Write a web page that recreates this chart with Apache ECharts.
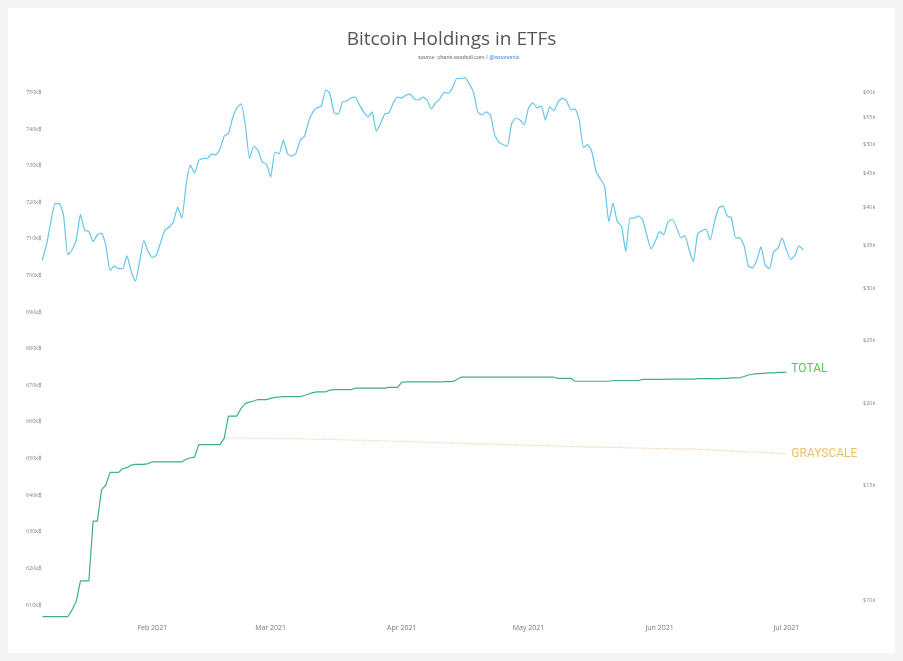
<!DOCTYPE html>
<html><head><meta charset="utf-8">
<script src="https://cdn.jsdelivr.net/npm/echarts@6/dist/echarts.min.js"></script>
<style>
html,body{margin:0;padding:0;background:#f4f4f4;width:903px;height:661px;overflow:hidden}
#c{position:absolute;left:8px;top:8px;width:887px;height:645px;background:#fff}
</style></head><body><div id="c"></div>
<script>
// ---- data ----
const startDate = [2021, 0, 6]; // daily series start: 6 Jan 2021
const leftTicksK = [610,620,630,640,650,660,670,680,690,700,710,720,730,740,750];
const rightTicksK = [10,15,20,25,30,35,40,45,50,55,60];

// BTC price, $k, daily from 6 Jan
const priceK = [33.2,35.1,38.0,40.5,40.5,38.9,33.8,34.4,35.6,39.0,36.9,36.7,35.4,36.3,36.5,35.0,32.0,32.5,32.2,32.2,
33.7,31.9,30.8,33.0,35.6,34.2,33.5,33.8,35.4,36.9,37.3,38.0,40.0,38.5,43.3,46.4,45.1,47.2,47.5,47.5,
48.3,48.1,49.1,51.4,51.9,54.8,56.8,57.6,53.5,47.5,49.6,48.9,46.9,46.6,44.5,48.6,48.3,50.7,48.3,47.9,
48.4,50.7,51.4,54.2,56.0,56.8,57.1,60.5,59.8,55.8,55.6,58.0,58.2,58.8,59.0,57.4,56.0,55.0,56.0,52.3,
53.7,55.6,55.8,57.8,59.0,58.8,59.4,59.6,58.6,58.4,59.0,58.4,56.6,57.8,58.6,60.0,59.8,60.9,63.0,63.0,
63.2,61.8,60.0,56.0,55.4,56.0,55.4,51.6,50.3,49.9,49.6,53.7,54.8,54.4,53.5,56.8,57.8,56.8,57.2,54.4,
57.0,56.2,58.0,58.8,58.2,56.4,56.6,54.4,49.4,49.9,48.6,45.3,44.2,43.1,38.0,40.6,38.0,37.4,34.2,38.5,
38.5,38.8,38.3,36.2,34.5,35.5,36.7,36.3,38.0,38.3,37.3,35.9,36.2,34.4,33.0,36.4,36.8,37.0,35.6,38.0,
39.9,40.2,38.8,38.5,35.9,35.9,34.9,32.5,32.3,33.2,34.8,32.6,32.2,34.2,34.6,35.9,34.4,33.3,33.7,34.9,34.4];

// total ETF holdings, k BTC, daily from 6 Jan to 1 Jul
const totalK = [606.8,606.8,606.8,606.8,606.8,606.8,606.8,608.6,611.0,616.6,616.6,616.6,632.9,632.9,641.5,642.7,646.2,646.2,646.2,647.2,
647.5,648.2,648.4,648.4,648.4,648.6,649.1,649.1,649.1,649.1,649.1,649.1,649.1,649.1,649.8,650.2,650.4,653.8,653.8,653.8,
653.8,653.8,653.8,655.5,661.6,661.6,661.6,663.7,665.0,665.4,665.7,666.1,666.1,666.1,666.4,666.7,666.8,666.9,666.9,666.9,
666.9,666.9,667.2,667.6,668.0,668.2,668.2,668.2,668.7,668.8,668.8,668.8,668.8,668.8,669.2,669.2,669.2,669.2,669.2,669.2,
669.2,669.2,669.4,669.4,669.4,670.8,670.9,670.9,670.9,670.9,670.9,670.9,670.9,670.9,670.9,671.0,671.0,671.0,671.5,672.2,
672.2,672.2,672.2,672.2,672.2,672.2,672.2,672.2,672.2,672.2,672.2,672.2,672.2,672.2,672.2,672.2,672.2,672.2,672.2,672.2,
672.2,672.2,671.9,671.9,671.9,671.9,671.1,671.1,671.1,671.1,671.1,671.1,671.1,671.1,671.1,671.3,671.3,671.3,671.3,671.3,
671.3,671.3,671.6,671.6,671.6,671.6,671.6,671.6,671.7,671.7,671.7,671.7,671.7,671.7,671.7,671.8,671.8,671.8,671.8,671.8,
671.8,671.9,671.9,672.0,672.0,672.1,672.4,672.8,673.0,673.2,673.2,673.3,673.4,673.4,673.5,673.5,673.6];

// Grayscale holdings, k BTC: [day offset from 6 Jan, value]
const grayDays = [43, 55, 75, 95, 115, 135, 155, 176];
const grayK =    [655.6, 655.5, 655.0, 654.3, 653.6, 653.0, 652.5, 651.3];

// ---- build ----
const day = 86400000;
const t0 = new Date(startDate[0], startDate[1], startDate[2]).getTime();
const ts = i => t0 + i * day;
const priceData = priceK.map((v, i) => [ts(i), v]);
const totalData = totalK.map((v, i) => [ts(i), v]);
const grayData = grayK.map((v, i) => [ts(grayDays[i]), v]);
const MONTHS = ['Jan','Feb','Mar','Apr','May','Jun','Jul','Aug','Sep','Oct','Nov','Dec'];

const chart = echarts.init(document.getElementById('c'), null, {renderer: 'canvas'});
chart.setOption({
  animation: false,
  backgroundColor: '#fff',
  textStyle: {fontFamily: 'Open Sans, Noto Sans, sans-serif'},
  graphic: [
    {type: 'text', left: 'center', top: 22,
     style: {text: 'Bitcoin Holdings in ETFs', fontSize: 19, fontFamily: 'Open Sans', fill: '#555'}},
    {type: 'text', left: 410, top: 46,
     style: {text: '{a|source: charts.woobull.com / }{b|@woonomic}', fontSize: 5.5, fontFamily: 'Open Sans',
       rich: {a: {fill: '#666', fontSize: 5.5}, b: {fill: '#3b7dd8', fontSize: 5.5}}}}
  ],
  grid: {left: 34.4, right: 41, top: 47.7, bottom: 11.4, containLabel: false},
  xAxis: {
    type: 'time', min: t0, max: ts(192), offset: -17.6,
    minInterval: 28 * day, maxInterval: 31 * day,
    axisLine: {show: false}, axisTick: {show: false}, splitLine: {show: false},
    axisLabel: {margin: 0, fontSize: 7, color: '#777', hideOverlap: false,
      formatter: v => { const d = new Date(v); return MONTHS[d.getMonth()] + ' ' + d.getFullYear(); }}
  },
  yAxis: [
    {type: 'value', min: 600, max: 760, interval: 10, position: 'left',
     axisLine: {show: false}, axisTick: {show: false}, splitLine: {show: false},
     axisLabel: {margin: 1, fontSize: 5.5, color: '#888',
       formatter: v => (leftTicksK.indexOf(v) >= 0 ? v + 'k₿' : '')}},
    {type: 'log', min: 8.635, max: 68.28, position: 'right',
     axisLine: {show: false}, axisTick: {show: false}, splitLine: {show: false},
     axisLabel: {customValues: rightTicksK, margin: 9, fontSize: 5.5, color: '#888',
       formatter: v => '$' + Math.round(v) + 'k'}}
  ],
  series: [
    {name: 'price', type: 'line', yAxisIndex: 1, data: priceData, showSymbol: false, smooth: 0.15,
     lineStyle: {color: '#66c4e9', width: 1.2}, itemStyle: {color: '#66c4e9'}},
    {name: 'GRAYSCALE', type: 'line', yAxisIndex: 0, data: grayData, showSymbol: false,
     lineStyle: {color: '#f8c9a2', width: 1, type: 'dotted'}, itemStyle: {color: '#f8c9a2'},
     endLabel: {show: true, formatter: 'GRAYSCALE', color: '#f0c060', fontSize: 12, distance: 5, fontFamily: 'Roboto'}},
    {name: 'TOTAL', type: 'line', yAxisIndex: 0, data: totalData, showSymbol: false,
     lineStyle: {color: '#3fae8d', width: 1.2}, itemStyle: {color: '#3fae8d'},
     endLabel: {show: true, formatter: 'TOTAL', color: '#5cc45c', fontSize: 12, distance: 5, offset: [0, -3], fontFamily: 'Roboto'}}
  ]
});
</script></body></html>
